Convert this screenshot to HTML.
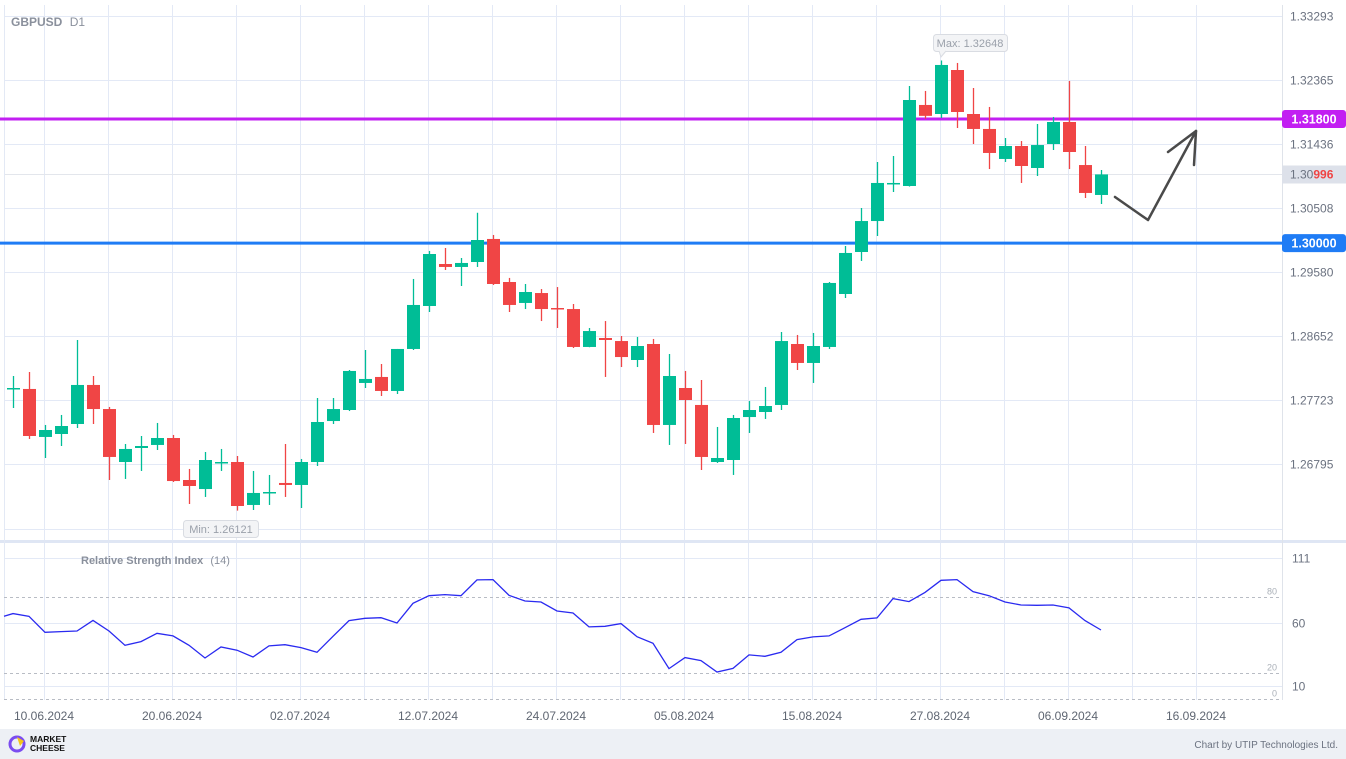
<!DOCTYPE html>
<html><head><meta charset="utf-8"><style>
html,body{margin:0;padding:0;background:#fff;}
svg{display:block;font-family:"Liberation Sans",sans-serif;}
</style></head><body>
<svg id="chart" width="1346" height="759" viewBox="0 0 1346 759" xmlns="http://www.w3.org/2000/svg">
<rect x="0" y="0" width="1346" height="759" fill="#ffffff"/>
<g id="grid"></g>
<rect x="0" y="540" width="1346" height="3" fill="#dfe6f4"/>
<line x1="1282.5" y1="5" x2="1282.5" y2="700" stroke="#dfe3ea"/>
<line x1="4.5" y1="5" x2="4.5" y2="700" stroke="#e3e9f5"/>
<text x="11" y="26" font-size="12" font-weight="bold" fill="#8a909c">GBPUSD <tspan font-weight="normal" dx="4">D1</tspan></text>
<g id="levels"></g>
<g id="candles"></g>
<g id="yaxis"></g>
<g>
<rect x="933.5" y="34.5" width="74" height="17" rx="3" fill="#f3f4f6" stroke="#d9dce2"/>
<path d="M939 51 L941 57 L946 51" fill="#f3f4f6" stroke="#d9dce2"/>
<text x="970" y="47" font-size="11" fill="#9aa0aa" text-anchor="middle">Max: 1.32648</text>
</g>
<g>
<rect x="183.5" y="520.5" width="75" height="17" rx="3" fill="#f3f4f6" stroke="#d9dce2"/>
<text x="221" y="533" font-size="11" fill="#9aa0aa" text-anchor="middle">Min: 1.26121</text>
</g>
<g fill="none" stroke="#4a4a4a" stroke-width="2.5" stroke-linecap="round" stroke-linejoin="round">
<polyline points="1115,197 1148,220 1196,131"/>
<polyline points="1168,152 1196,131 1194,165"/>
</g>
<g id="rsi"></g>
<text x="81" y="564" font-size="11" font-weight="bold" fill="#8a909c">Relative Strength Index <tspan font-weight="normal" dx="4">(14)</tspan></text>
<g id="xaxis"></g>
<rect x="0" y="729" width="1346" height="30" fill="#edf0f5"/>
<g>
<circle cx="17" cy="744" r="7" fill="none" stroke="#7b4cf0" stroke-width="3"/>
<path d="M17 737 L24 741 L20 746 Z" fill="#f5c518"/>
<text x="30" y="742" font-size="8.5" font-weight="bold" fill="#111">MARKET</text>
<text x="30" y="751" font-size="8.5" font-weight="bold" fill="#111">CHEESE</text>
</g>
<text x="1338" y="748" font-size="10" fill="#6b7280" text-anchor="end">Chart by UTIP Technologies Ltd.</text>
</svg>
<script>
const opens=[1.27885,1.27885,1.27189,1.27232,1.27377,1.27943,1.27594,1.26826,1.27029,1.27073,1.27174,1.26565,1.26434,1.26812,1.26826,1.26203,1.26377,1.26522,1.26493,1.26826,1.27420,1.27580,1.27972,1.28059,1.27856,1.28465,1.29088,1.29697,1.29654,1.29726,1.30060,1.29436,1.29132,1.29276,1.29059,1.29044,1.28494,1.28624,1.28580,1.28305,1.28537,1.27363,1.27899,1.27653,1.26826,1.26855,1.27478,1.27551,1.27653,1.28537,1.28262,1.28494,1.29262,1.29871,1.30320,1.30857,1.30828,1.32003,1.31872,1.32510,1.31872,1.31655,1.31220,1.31408,1.31089,1.31437,1.31756,1.31132,1.30698];
const highs=[1.28073,1.28131,1.27363,1.27508,1.28595,1.28073,1.27624,1.27087,1.27203,1.27392,1.27218,1.26725,1.26971,1.27015,1.26913,1.26696,1.26638,1.27087,1.26870,1.27754,1.27754,1.28160,1.28450,1.28247,1.28465,1.29480,1.29886,1.29929,1.29784,1.30440,1.30118,1.29495,1.29407,1.29334,1.29363,1.29117,1.28769,1.28870,1.28653,1.28639,1.28610,1.28392,1.28146,1.28015,1.27334,1.27508,1.27710,1.27914,1.28711,1.28668,1.28697,1.29436,1.29958,1.30509,1.31176,1.31263,1.32278,1.32206,1.32648,1.32612,1.32249,1.31974,1.31524,1.31480,1.31727,1.31829,1.32351,1.31408,1.31060];
const lows=[1.27609,1.27160,1.26884,1.27058,1.27319,1.27377,1.26565,1.26580,1.26696,1.27000,1.26536,1.26217,1.26319,1.26696,1.26121,1.26130,1.26203,1.26319,1.26159,1.26768,1.27377,1.27565,1.27899,1.27783,1.27812,1.28450,1.29001,1.29610,1.29378,1.29654,1.29393,1.29001,1.29044,1.28870,1.28769,1.28479,1.28490,1.28059,1.28203,1.28203,1.27247,1.27073,1.27087,1.26710,1.26812,1.26638,1.27247,1.27450,1.27580,1.28160,1.27972,1.28465,1.29204,1.29741,1.30103,1.30741,1.30820,1.31800,1.31814,1.31669,1.31437,1.31074,1.31176,1.30872,1.30973,1.31350,1.31074,1.30654,1.30567];
const closes=[1.27899,1.27203,1.27290,1.27348,1.27943,1.27594,1.26899,1.27015,1.27058,1.27174,1.26550,1.26478,1.26855,1.26826,1.26188,1.26377,1.26391,1.26493,1.26826,1.27406,1.27594,1.28146,1.28030,1.27856,1.28465,1.29103,1.29842,1.29654,1.29712,1.30045,1.29407,1.29103,1.29291,1.29044,1.29044,1.28494,1.28725,1.28595,1.28348,1.28508,1.27363,1.28073,1.27725,1.26899,1.26884,1.27464,1.27580,1.27638,1.28580,1.28262,1.28508,1.29422,1.29857,1.30320,1.30872,1.30872,1.32075,1.31845,1.32583,1.31901,1.31655,1.31307,1.31408,1.31118,1.31422,1.31756,1.31321,1.30727,1.30996];
const rsiValues=[67.1,65.0,52.4,52.9,53.4,61.8,53.4,42.1,45.0,51.6,49.5,42.1,32.1,40.8,38.2,32.9,41.6,42.6,40.3,36.6,49.2,61.6,63.4,63.9,59.7,75.3,81.3,82.1,81.3,93.7,94.0,81.6,77.1,76.3,69.2,67.6,56.6,57.1,59.2,48.9,43.7,23.7,32.4,30.0,21.0,23.9,34.5,33.4,36.6,46.6,48.7,49.5,56.0,62.6,63.7,79.0,76.6,83.9,93.4,94.0,84.5,81.3,76.3,73.9,73.7,73.9,71.6,61.6,54.2];
const priceTicks=["1.33293","1.32365","1.31436","1.30508","1.29580","1.28652","1.27723","1.26795"];
const rsiTicks=[111,60,10];
const rsiLevels=[80,20,0];
const dateLabels=["10.06.2024","20.06.2024","02.07.2024","12.07.2024","24.07.2024","05.08.2024","15.08.2024","27.08.2024","06.09.2024","16.09.2024"];
const dateIndex=[2,10,18,26,34,42,50,58,66,74];
const levelValues=[1.318,1.30];
const levelLabels=["1.31800","1.30000"];
const lastPrice="1.30996";

const NS="http://www.w3.org/2000/svg";
function mk(tag,attrs,parent){const e=document.createElementNS(NS,tag);for(const k in attrs)e.setAttribute(k,attrs[k]);parent.appendChild(e);return e;}
function xAt(i){return 13+16*i;}
function yP(p){return 16+(1.33293-p)/0.00928*64;}
function yR(v){return 597.3+(80-v)*76/60;}

const grid=document.getElementById('grid');
for(let gx=44;gx<1240;gx+=64){const l=mk('line',{x1:gx+.5,y1:5,x2:gx+.5,y2:700,stroke:'#e3e9f6'},grid);

}
const yaxis=document.getElementById('yaxis');
priceTicks.forEach(t=>{const y=Math.round(yP(parseFloat(t)))+.5;
const l=mk('line',{x1:4,y1:y,x2:1282,y2:y,stroke:'#e3e9f6'},grid);


const tx=mk('text',{x:1290,y:y+4,'font-size':12,fill:'#6b7280'},yaxis);tx.textContent=t;

});
const bl=mk('line',{x1:4,y1:529.5,x2:1282,y2:529.5,stroke:'#e3e9f6'},grid);


const ly=Math.round(yP(parseFloat(lastPrice)))+.5;
const ll=mk('line',{x1:4,y1:ly,x2:1282,y2:ly,stroke:'#e3e6ec'},grid);



const levels=document.getElementById('levels');
const lvColors=['#c21ff2','#1f7cf5'];
levelValues.forEach((v,k)=>{const y=yP(v);
const l=mk('line',{x1:0,y1:y,x2:1282,y2:y,stroke:lvColors[k],'stroke-width':3},levels);


const r=mk('rect',{x:1282,y:y-9,width:64,height:18,rx:3,fill:lvColors[k]},yaxis);


const t=mk('text',{x:1314,y:y+4.5,'font-size':12.5,'font-weight':'bold',fill:'#fff','text-anchor':'middle'},yaxis);t.textContent=levelLabels[k];

});
const lr=mk('rect',{x:1282,y:ly-9,width:64,height:18,fill:'#dde1ea'},yaxis);


const lt=mk('text',{x:1290,y:ly+4,'font-size':12,fill:'#6b7280'},yaxis);


lt.innerHTML=lastPrice.slice(0,4)+'<tspan fill="#ef4444" font-weight="bold">'+lastPrice.slice(4)+'</tspan>';

const cg=document.getElementById('candles');
opens.forEach((o,i)=>{const c=closes[i];const up=c>=o;const col=up?'#00bd96':'#f04545';const x=xAt(i);
const w=mk('line',{x1:x+.5,y1:yP(highs[i]),x2:x+.5,y2:yP(lows[i]),stroke:col,'stroke-width':1.3},cg);


const top=yP(Math.max(o,c)),bot=yP(Math.min(o,c));
const b=mk('rect',{x:x-6,y:top,width:13,height:Math.max(1.5,bot-top),fill:col},cg);

});

const rg=document.getElementById('rsi');
rsiTicks.forEach(v=>{const y=Math.round(yR(v))+.5;
const l=mk('line',{x1:4,y1:y,x2:1282,y2:y,stroke:'#e3e9f6'},rg);


const t=mk('text',{x:1292,y:y+4,'font-size':12,fill:'#6b7280'},rg);t.textContent=v;

});
rsiLevels.forEach(v=>{const y=Math.round(yR(v))+.5;
const l=mk('line',{x1:4,y1:y,x2:1282,y2:y,stroke:'#b8bcc4','stroke-dasharray':'3,3'},rg);


const t=mk('text',{x:1277,y:y-3,'font-size':9,fill:'#aab0b8','text-anchor':'end'},rg);t.textContent=v;

});
let pts='4,'+yR(rsiValues[1]).toFixed(1)+' ';
pts+=rsiValues.map((v,i)=>xAt(i)+','+yR(v).toFixed(1)).join(' ');
const pl=mk('polyline',{points:pts,fill:'none',stroke:'#2a2af0','stroke-width':1.3},rg);



const xg=document.getElementById('xaxis');
dateLabels.forEach((d,k)=>{const t=mk('text',{x:xAt(dateIndex[k])-1,y:720,'font-size':12,fill:'#5f6672','text-anchor':'middle'},xg);t.textContent=d;

});
</script>
</body></html>
